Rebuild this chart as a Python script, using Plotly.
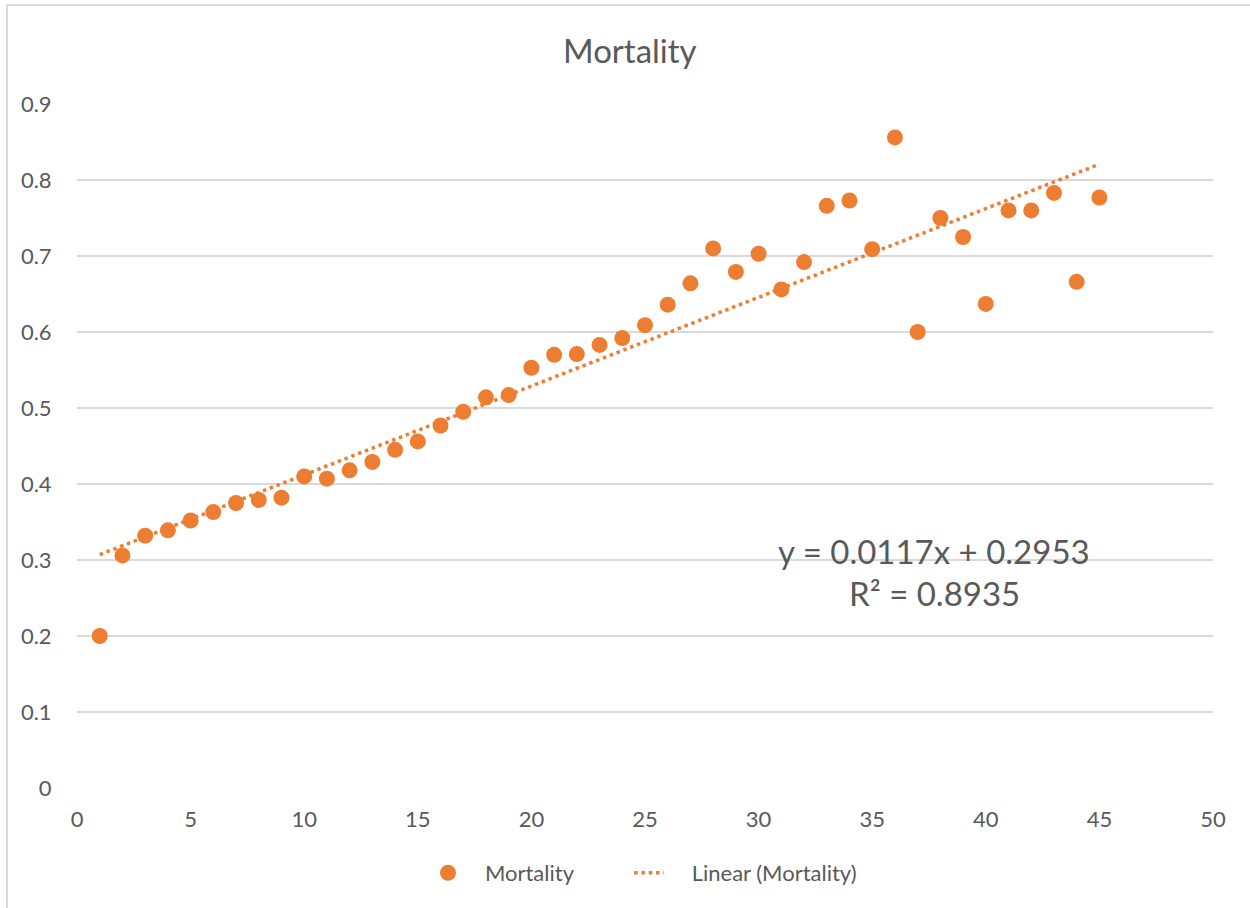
import numpy as np
import plotly.graph_objects as go

# ---- data ----
x_values = list(range(1, 46))
mortality = [0.200, 0.306, 0.332, 0.339, 0.352, 0.363, 0.375, 0.379, 0.382, 0.410,
             0.407, 0.418, 0.429, 0.445, 0.456, 0.477, 0.495, 0.514, 0.517, 0.553,
             0.570, 0.571, 0.583, 0.592, 0.609, 0.636, 0.664, 0.710, 0.679, 0.703,
             0.656, 0.692, 0.766, 0.773, 0.709, 0.856, 0.600, 0.750, 0.725, 0.637,
             0.760, 0.760, 0.783, 0.666, 0.777]
x_ticks = [0, 5, 10, 15, 20, 25, 30, 35, 40, 45, 50]
y_ticks = [0, 0.1, 0.2, 0.3, 0.4, 0.5, 0.6, 0.7, 0.8, 0.9]
y_tick_labels = ["0", "0.1", "0.2", "0.3", "0.4", "0.5", "0.6", "0.7", "0.8", "0.9"]
equation_text = "y = 0.0117x + 0.2953"
r2_text = "R² = 0.8935"
series_name = "Mortality"
trend_name = "Linear (Mortality)"

# linear trendline computed from the data
slope, intercept = np.polyfit(x_values, mortality, 1)
trend_x = [x_values[0], x_values[-1]]
trend_y = [slope * v + intercept for v in trend_x]

ORANGE = "#ED7D31"
TEXT = "#595959"
GRID = "#d9d9d9"
FONT = "Lato"
NB = "&nbsp;"

fig = go.Figure()
fig.add_trace(go.Scatter(
    x=x_values, y=mortality, mode="markers",
    name=NB * 3 + series_name + NB * 9,
    marker=dict(color=ORANGE, size=16, line=dict(width=0)),
))
fig.add_trace(go.Scatter(
    x=trend_x, y=trend_y, mode="lines",
    name=NB * 4 + trend_name,
    line=dict(color=ORANGE, width=3.5, dash="3.5px,3.8px"),
))

L, R, T, B = 77, 37, 104, 120
W, H = 1250, 908
pw, ph = W - L - R, H - T - B

fig.update_layout(
    width=W, height=H,
    margin=dict(l=L, r=R, t=T, b=B),
    paper_bgcolor="white", plot_bgcolor="white",
    font=dict(family=FONT, color=TEXT, size=22),
    showlegend=True,
    legend=dict(orientation="h", x=0.5, xanchor="center", y=(788 - 873) / ph,
                yanchor="middle", font=dict(size=22, color=TEXT),
                tracegroupgap=0),
    xaxis=dict(range=[0, 50], tickvals=x_ticks, showgrid=False, zeroline=False,
               showline=False, ticks="outside", ticklen=12, tickcolor="rgba(0,0,0,0)",
               tickfont=dict(size=22, color=TEXT)),
    yaxis=dict(range=[0, 0.9], tickvals=y_ticks, ticktext=y_tick_labels,
               showgrid=True, gridcolor=GRID, gridwidth=1.5, zeroline=False,
               showline=False, ticks="outside", ticklen=20, tickcolor="rgba(0,0,0,0)",
               tickfont=dict(size=22, color=TEXT)),
    annotations=[
        dict(text="Mortality", xref="paper", yref="paper", x=(630 - L) / pw,
             y=(788 - 50) / ph, xanchor="center", yanchor="middle", showarrow=False,
             font=dict(size=33, color=TEXT, family=FONT)),
        dict(text=equation_text, xref="x", yref="y", x=(934 - L) / pw * 50,
             y=(788 - 551) / ph * 0.9, xanchor="center", yanchor="middle", showarrow=False,
             font=dict(size=33, color=TEXT, family=FONT)),
        dict(text=r2_text, xref="x", yref="y", x=(934 - L) / pw * 50,
             y=(788 - 593) / ph * 0.9, xanchor="center", yanchor="middle", showarrow=False,
             font=dict(size=33, color=TEXT, family=FONT)),
    ],
    shapes=[
        dict(type="rect", xref="paper", yref="paper",
             x0=(7 - L) / pw, x1=(1290 - L) / pw,
             y0=(788 - 960) / ph, y1=(788 - 5) / ph,
             line=dict(color=GRID, width=2), fillcolor="rgba(0,0,0,0)", layer="below"),
    ],
)

fig.write_html("out.html", config={"displayModeBar": False},
               post_script="document.body.style.margin='0px';")
